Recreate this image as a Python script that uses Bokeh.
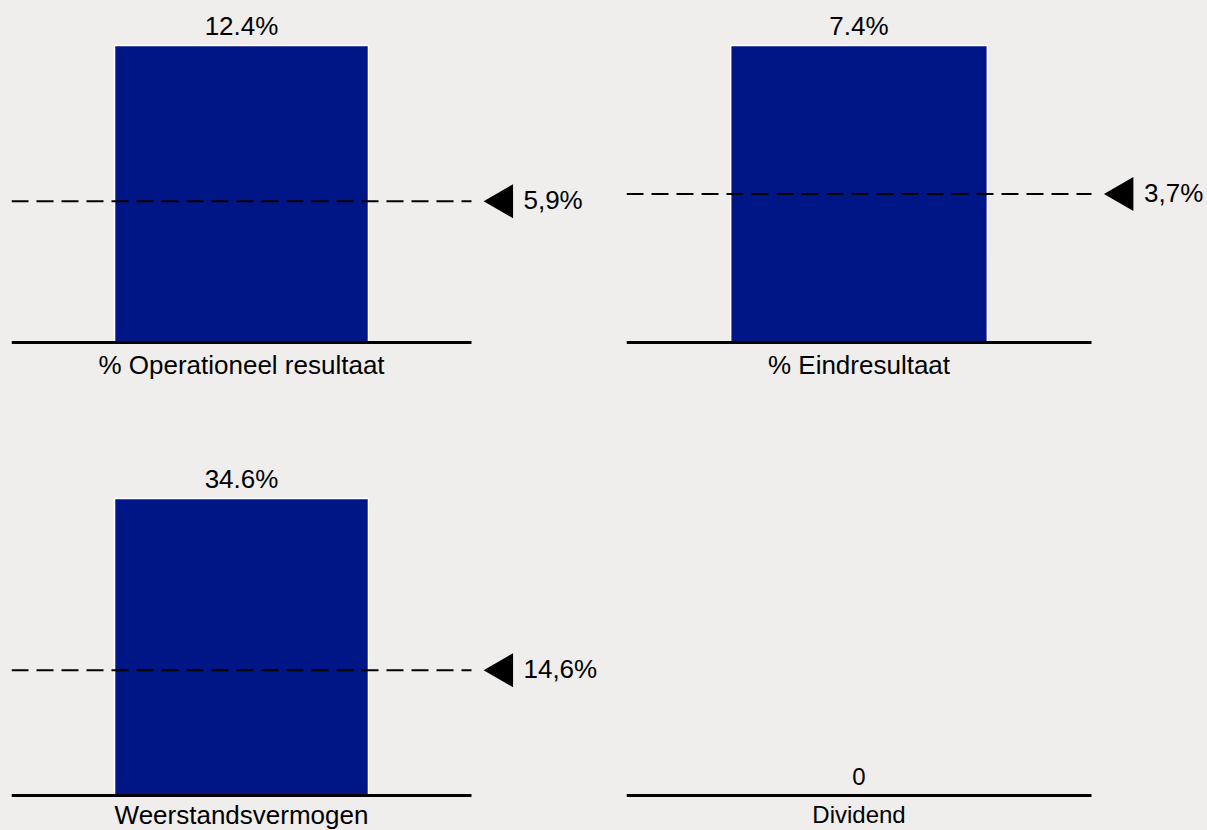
import numpy as np
from bokeh.plotting import figure
from bokeh.layouts import gridplot
from bokeh.models import Range1d, ColumnDataSource
from bokeh.core.properties import value
from bokeh.embed import file_html
from bokeh.resources import INLINE

# ---- data ----
categories = ["% Operationeel resultaat", "% Eindresultaat", "Weerstandsvermogen", "Dividend"]
values = [12.4, 7.4, 34.6, 0.0]
value_labels = ["12.4%", "7.4%", "34.6%", "0"]
benchmarks = [5.9, 3.7, 14.6, None]
benchmark_labels = ["5,9%", "3,7%", "14,6%", None]

# ---- style / layout ----
BG = "#efeeec"
BAR = "#001586"
FONT = "Liberation Sans"
BAR_PX = 297          # pixel height of a full bar
SLOT = 1.0            # width of one category slot (baseline length)
BAR_W = 0.552
TRI_X = 1.069
LAB_X = 1.113


def panel(i, width, height, left_border, unit_px, base_from_top, font_px,
          val_off, cat_off, bench_off):
    v = values[i]
    ppu = BAR_PX / v if v > 0 else BAR_PX
    frame_w = width - left_border
    p = figure(width=width, height=height,
               x_range=Range1d(0, frame_w / unit_px),
               y_range=Range1d(-(height - base_from_top) / ppu, base_from_top / ppu),
               output_backend="svg", toolbar_location=None,
               min_border_left=left_border, min_border_right=0,
               min_border_top=0, min_border_bottom=0,
               x_axis_location=None, y_axis_location=None,
               background_fill_color=BG, border_fill_color=BG,
               outline_line_color=None)
    p.xgrid.grid_line_color = None
    p.ygrid.grid_line_color = None

    src = ColumnDataSource(dict(x=[SLOT / 2], top=[v], cat=[categories[i]], lab=[value_labels[i]]))
    if v > 0:
        p.vbar(x="x", top="top", bottom=0, width=BAR_W, source=src,
               fill_color=BAR, line_color="white", line_width=1.5)

    b = benchmarks[i]
    if b is not None:
        p.segment(x0=[0], x1=[SLOT], y0=[b], y1=[b], line_color="black",
                  line_width=2, line_dash="17 8")
        p.scatter(x=[TRI_X], y=[b], marker="triangle", size=34, angle=np.pi / 2,
                  fill_color="black", line_color=None)
        p.text(x=[LAB_X], y=[b], text=[benchmark_labels[i]], text_align="left",
               text_baseline="alphabetic", y_offset=bench_off, text_font=value(FONT),
               text_font_size=f"{font_px}px", text_color="black")

    p.segment(x0=[0], x1=[SLOT], y0=[0], y1=[0], line_color="black", line_width=3)

    p.text(x="x", y="top", text="lab", source=src, text_align="center",
           text_baseline="alphabetic", y_offset=val_off, text_font=value(FONT),
           text_font_size=f"{font_px}px", text_color="black")
    p.text(x="x", y=0, text="cat", source=src, text_align="center",
           text_baseline="alphabetic", y_offset=cat_off, text_font=value(FONT),
           text_font_size=f"{font_px}px", text_color="black")
    return p


p1 = panel(0, 608, 461, 11, 460, 342, 26, -20, 22, -1)
p2 = panel(1, 599, 461, 18, 465, 342, 26, -20, 22, -1)
p3 = panel(2, 608, 369, 11, 460, 334, 26, -20, 19, -1)
p4 = panel(3, 599, 369, 18, 465, 334, 24, -19, 19, -1)

layout = gridplot([[p1, p2], [p3, p4]], toolbar_location=None)

html = file_html(layout, INLINE)
html = html.replace("</head>", "<style>body{background:#efeeec;}</style></head>", 1)
open("out.html", "w").write(html)
